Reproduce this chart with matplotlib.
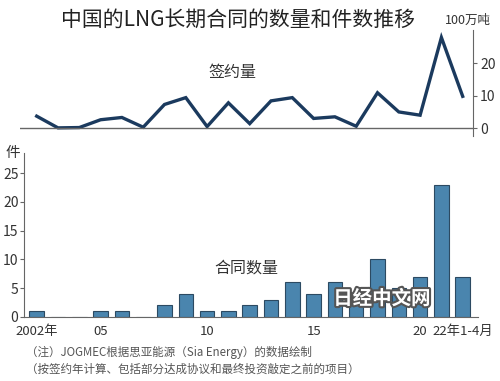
import matplotlib.pyplot as plt
import matplotlib.patheffects as pe

plt.rcParams['font.family'] = ['Noto Sans CJK SC', 'DejaVu Sans']

# data
years = list(range(2002, 2023))
volume = [3.7, 0.1, 0.2, 2.6, 3.3, 0.3, 7.3, 9.4, 0.5, 7.8, 1.4,
          8.4, 9.4, 3.0, 3.5, 0.6, 10.9, 5.0, 4.0, 27.9, 9.8]   # 100万吨
counts = [1, 0, 0, 1, 1, 0, 2, 4, 1, 1, 2,
          3, 6, 4, 6, 2, 10, 5, 7, 23, 7]                      # 件
xtick_pos = [2002, 2005, 2010, 2015, 2020, 2022]
xtick_labels = ['2002年', '05', '10', '15', '20', '22年1-4月']

line_color = '#1b3a5e'
bar_color = '#4a85ae'
bar_edge = '#2c4a62'
axis_color = '#666666'
text_color = '#333333'

fig = plt.figure(figsize=(5, 3.81), dpi=100)
W, H = 500, 381

def rect(x0, y0, x1, y1):
    # pixel box -> figure fraction
    return [x0 / W, 1 - y1 / H, (x1 - x0) / W, (y1 - y0) / H]

def ftext(x, y, s, **kw):
    # text placed by pixel position from top-left
    return fig.text(x / W, 1 - y / H, s, **kw)

px_per_year = 21.3
x2002 = 36.7

def xl(p):
    return 2002 + (p - x2002) / px_per_year

# ---- top: line chart ----
ax1 = fig.add_axes(rect(20, 30, 473, 136))
ax1.plot(years, volume, color=line_color, lw=2.4, solid_joinstyle='miter')
ax1.set_xlim(xl(20), xl(473))
ax1.set_ylim(-2.4, 30.2)
ax1.axhline(0, color=axis_color, lw=1)
for s in ['top', 'left', 'bottom']:
    ax1.spines[s].set_visible(False)
ax1.spines['right'].set_color(axis_color)
ax1.yaxis.tick_right()
ax1.set_yticks([0, 10, 20])
ax1.tick_params(axis='y', length=3, color=axis_color, labelsize=10,
                labelcolor=text_color, pad=2)
ax1.set_xticks([])
ftext(232, 73, '签约量', fontsize=11.5, color=text_color, ha='center', va='center')

# ---- bottom: bar chart ----
ax2 = fig.add_axes(rect(24, 153, 478, 317))
ax2.bar(years, counts, width=0.68, color=bar_color, edgecolor=bar_edge, lw=0.8)
ax2.set_xlim(xl(24), xl(478))
ax2.set_ylim(0, 28.5)
for s in ['top', 'right']:
    ax2.spines[s].set_visible(False)
ax2.spines['left'].set_color(axis_color)
ax2.spines['bottom'].set_color(axis_color)
ax2.set_yticks([0, 5, 10, 15, 20, 25])
ax2.set_xticks(xtick_pos)
ax2.set_xticklabels(xtick_labels)
ax2.tick_params(axis='y', length=3, color=axis_color, labelsize=10,
                labelcolor=text_color, pad=1)
ax2.tick_params(axis='x', length=0, labelsize=9.5, labelcolor=text_color, pad=6)
ftext(246, 268, '合同数量', fontsize=11.5, color=text_color, ha='center', va='center')

# watermark
ftext(382, 299, '日经中文网', fontsize=14, color='white', fontweight='bold',
      ha='center', va='center',
      path_effects=[pe.withStroke(linewidth=3, foreground='#555555')])

# titles / units / notes
ftext(238, 20, '中国的LNG长期合同的数量和件数推移', fontsize=15,
      color='#222222', ha='center', va='center')
ftext(468, 20, '100万吨', fontsize=9, color=text_color, ha='center', va='center')
ftext(13, 153, '件', fontsize=10.5, color=text_color, ha='center', va='center')
ftext(26, 352, '（注）JOGMEC根据思亚能源（Sia Energy）的数据绘制',
      fontsize=8.3, color='#555555', ha='left', va='center')
ftext(26, 369, '（按签约年计算、包括部分达成协议和最终投资敲定之前的项目）',
      fontsize=8.3, color='#555555', ha='left', va='center')

fig.savefig('out.png', dpi=100)
